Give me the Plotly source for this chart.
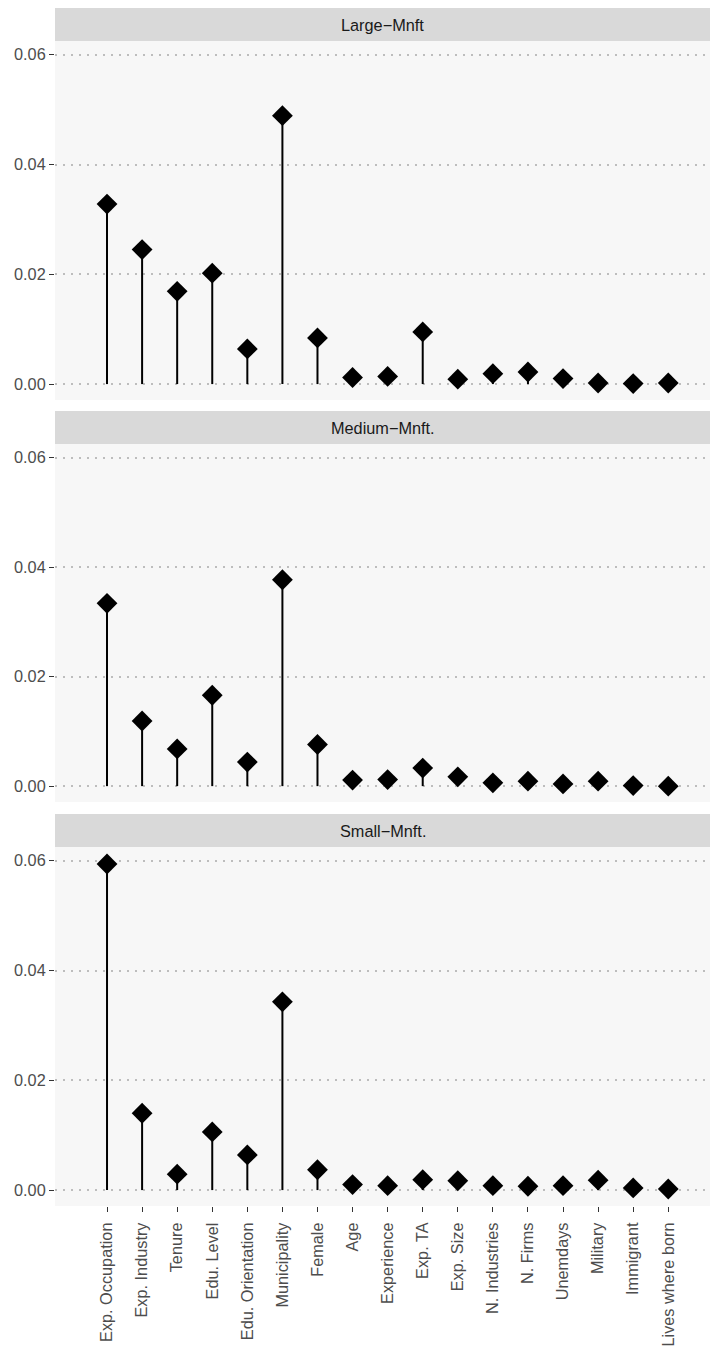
import plotly.graph_objects as go

features = [
    "Exp. Occupation", "Exp. Industry", "Tenure", "Edu. Level", "Edu. Orientation",
    "Municipality", "Female", "Age", "Experience", "Exp. TA", "Exp. Size",
    "N. Industries", "N. Firms", "Unemdays", "Military", "Immigrant", "Lives where born",
]

panel_titles = ["Large\u2212Mnft", "Medium\u2212Mnft.", "Small\u2212Mnft."]

large_mnft = [0.0328, 0.0245, 0.0169, 0.0202, 0.0064, 0.0489, 0.0084, 0.0012, 0.0014,
              0.0095, 0.0009, 0.0019, 0.0022, 0.0010, 0.0002, 0.0001, 0.0002]
medium_mnft = [0.0334, 0.0119, 0.0068, 0.0166, 0.0044, 0.0377, 0.0076, 0.0011, 0.0012,
               0.0033, 0.0017, 0.0006, 0.0009, 0.0004, 0.0009, 0.0001, 0.0000]
small_mnft = [0.0594, 0.0140, 0.0029, 0.0106, 0.0064, 0.0343, 0.0037, 0.0010, 0.0008,
              0.0019, 0.0017, 0.0008, 0.0007, 0.0008, 0.0018, 0.0004, 0.0002]

y_ticks = [0.00, 0.02, 0.04, 0.06]

series = [large_mnft, medium_mnft, small_mnft]

FONT = "Liberation Sans"
FS = 16.3

# pixel layout of the page
W, H = 710, 1348
top_px, bottom_px = 8, 1206
strip_px = 33
panel_tops = [41, 444, 847]
panel_bottoms = [400, 802, 1206]
plot_h = bottom_px - top_px


def to_paper(y_px):
    return (bottom_px - y_px) / plot_h


fig = go.Figure()
axis_names = ["", "2", "3"]

for i, (vals, title) in enumerate(zip(series, panel_titles)):
    ax = axis_names[i]
    # stems from zero up to each value
    sx, sy = [], []
    for f, v in zip(features, vals):
        sx += [f, f, None]
        sy += [0, v, None]
    fig.add_trace(go.Scatter(
        x=sx, y=sy, mode="lines", line=dict(color="black", width=2),
        xaxis="x" + ax, yaxis="y" + ax, showlegend=False, hoverinfo="skip",
    ))
    fig.add_trace(go.Scatter(
        x=features, y=vals, mode="markers",
        marker=dict(symbol="diamond", size=16, color="black", line=dict(width=0)),
        xaxis="x" + ax, yaxis="y" + ax, showlegend=False,
    ))

    dom = [to_paper(panel_bottoms[i]), to_paper(panel_tops[i])]
    last = i == 2
    xa = dict(
        domain=[0, 1], anchor="y" + ax, type="category",
        categoryorder="array", categoryarray=features,
        range=[-1.483, 17.19], showgrid=False, zeroline=False,
        showticklabels=last, ticks="outside" if last else "",
        ticklen=5, tickwidth=1.2, tickcolor="#333333", ticklabelstandoff=4,
        tickangle=-90, tickfont=dict(family=FONT, size=FS, color="#4D4D4D"),
        showline=False,
    )
    ya = dict(
        domain=dom, anchor="x" + ax, range=[-0.0029, 0.0625],
        tickvals=y_ticks, ticktext=[f"{t:.2f}" for t in y_ticks],
        ticks="outside", ticklen=5, tickwidth=1.2, tickcolor="#333333",
        tickfont=dict(family=FONT, size=FS, color="#4D4D4D"),
        showgrid=True, gridcolor="#BDBDBD", griddash="1.5px,6.5px", gridwidth=1.5,
        zeroline=False, showline=False,
    )
    if i > 0:
        xa["matches"] = "x"
    fig.layout["xaxis" + ax] = xa
    fig.layout["yaxis" + ax] = ya

    # panel background
    fig.add_shape(type="rect", xref="paper", yref="paper", x0=0, x1=1,
                  y0=dom[0], y1=dom[1], fillcolor="#F7F7F7", line_width=0, layer="below")
    # strip header
    s0 = to_paper(panel_tops[i])
    s1 = to_paper(panel_tops[i] - strip_px)
    fig.add_shape(type="rect", xref="paper", yref="paper", x0=0, x1=1,
                  y0=s0, y1=s1, fillcolor="#D9D9D9", line_width=0, layer="below")
    fig.add_annotation(text=title, xref="paper", yref="paper", x=0.5, y=(s0 + s1) / 2,
                       showarrow=False, xanchor="center", yanchor="middle",
                       font=dict(family=FONT, size=FS, color="#1A1A1A"))

fig.update_layout(
    width=W, height=H,
    margin=dict(l=55, r=0, t=top_px, b=H - bottom_px, pad=0),
    paper_bgcolor="white", plot_bgcolor="rgba(0,0,0,0)",
    showlegend=False,
)

fig.write_html("out.html")
